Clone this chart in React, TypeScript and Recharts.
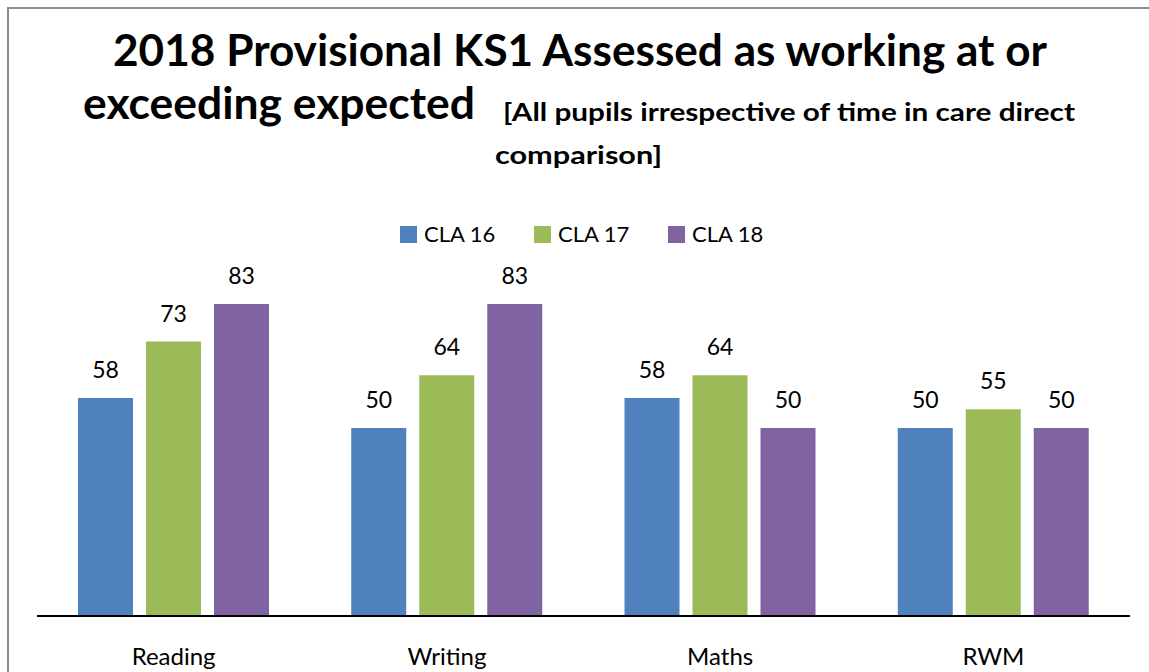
import React from "react";
import { BarChart, Bar, XAxis, YAxis, LabelList } from "recharts";

const categories = ["Reading", "Writing", "Maths", "RWM"];
const cla16 = [58, 50, 58, 50];
const cla17 = [73, 64, 64, 55];
const cla18 = [83, 83, 50, 50];

const seriesNames = ["CLA 16", "CLA 17", "CLA 18"];
const seriesKeys = ["cla16", "cla17", "cla18"];
const colors = ["#4F81BD", "#9BBB59", "#8064A2"];

const data = categories.map((name, i) => ({
  name,
  cla16: cla16[i],
  cla17: cla17[i],
  cla18: cla18[i],
}));

const font = "Lato, 'Open Sans', sans-serif";

const CategoryTick = (props: any) => {
  const { x, y, payload } = props;
  return (
    <text x={x} y={y + 49} textAnchor="middle" fill="#000" fontSize={24} fontFamily={font}>
      {payload.value}
    </text>
  );
};

function Title() {
  return (
    <svg width={1149} height={672} style={{ position: "absolute", left: 0, top: 0, pointerEvents: "none" }}>
      <g fontFamily={font} fontWeight={700} fill="#000">
        <text x={113} y={66} fontSize={43} textLength={934} lengthAdjust="spacingAndGlyphs">
          2018 Provisional KS1 Assessed as working at or
        </text>
        <text x={83} y={119} fontSize={43} textLength={392} lengthAdjust="spacingAndGlyphs">
          exceeding expected
        </text>
        <text x={503} y={121} fontSize={25} textLength={572} lengthAdjust="spacingAndGlyphs">
          [All pupils irrespective of time in care direct
        </text>
        <text x={495} y={164} fontSize={25} textLength={167} lengthAdjust="spacingAndGlyphs">
          comparison]
        </text>
      </g>
    </svg>
  );
}

function ChartLegend() {
  const lefts = [400, 534, 668];
  return (
    <div style={{ position: "absolute", left: 0, top: 0, fontFamily: font, fontSize: 22 }}>
      {seriesNames.map((n, i) => (
        <div key={n} style={{ position: "absolute", left: lefts[i], top: 221, whiteSpace: "nowrap", display: "flex", alignItems: "center", height: 24 }}>
          <span style={{ display: "inline-block", width: 17, height: 17, background: colors[i], marginRight: 7, marginTop: 2 }} />
          <span style={{ color: "#000" }}>{n}</span>
        </div>
      ))}
    </div>
  );
}

export default function App() {
  return (
    <div style={{ position: "fixed", left: 0, top: 0, width: 1149, height: 672, background: "#fff", overflow: "hidden" }}>
      <div
        style={{
          position: "absolute",
          left: 7,
          top: 7,
          width: 1200,
          height: 700,
          borderLeft: "2px solid #8c8c8c",
          borderTop: "2px solid #8c8c8c",
        }}
      />
      <Title />
      <ChartLegend />
      <div style={{ position: "absolute", left: 0, top: 0 }}>
        <BarChart
          width={1149}
          height={672}
          data={data}
          margin={{ top: 240, right: 19, bottom: 0, left: 37 }}
          barGap={13}
          barSize={55}
        >
          <XAxis
            dataKey="name"
            height={56}
            tickLine={false}
            tickSize={0}
            tickMargin={0}
            axisLine={{ stroke: "#000", strokeWidth: 2 }}
            tick={<CategoryTick />}
            interval={0}
          />
          <YAxis hide domain={[0, 100]} />
          {seriesKeys.map((k, i) => (
            <Bar key={k} dataKey={k} name={seriesNames[i]} fill={colors[i]} isAnimationActive={false}>
              <LabelList
                dataKey={k}
                position="top"
                offset={20}
                fill="#000"
                fontSize={23}
                fontFamily={font}
              />
            </Bar>
          ))}
        </BarChart>
      </div>
    </div>
  );
}
